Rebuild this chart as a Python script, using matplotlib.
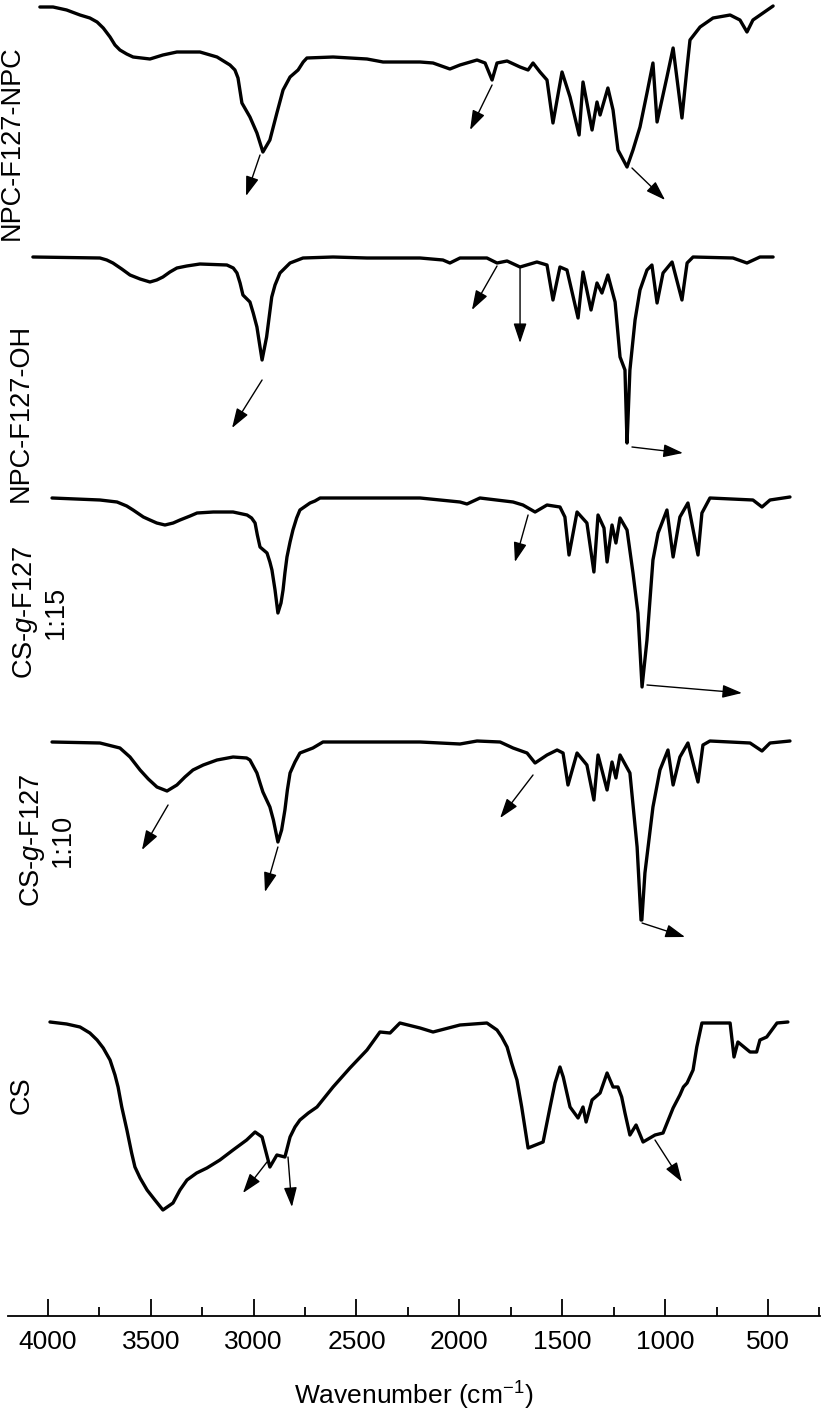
import matplotlib
matplotlib.use("Agg")
import matplotlib.pyplot as plt
import numpy as np

plt.rcParams['font.family'] = ['Liberation Sans', 'DejaVu Sans']
plt.rcParams['mathtext.fontset'] = 'custom'
plt.rcParams['mathtext.rm'] = 'Liberation Sans'
plt.rcParams['mathtext.it'] = 'Liberation Sans:italic'

# ---------------- data: (wavenumber cm^-1, relative transmittance a.u.) ----------------
labels = ["NPC-F127-NPC", "NPC-F127-OH", "CS-$\\mathit{g}$-F127\n1:15",
          "CS-$\\mathit{g}$-F127\n1:10", "CS"]
offsets = [1309, 1059, 818, 574, 294]

npc_f127_npc = [
    (4039, 0), (3975, 0), (3909, -3), (3844, -8), (3796, -11), (3761, -15), (3731, -21),
    (3698, -30), (3674, -38), (3650, -43), (3617, -47), (3586, -50), (3504, -52),
    (3441, -48), (3373, -45), (3261, -45), (3178, -50), (3115, -58), (3091, -63),
    (3076, -71), (3057, -96), (3018, -110), (2984, -126), (2955, -145), (2921, -133),
    (2887, -106), (2857, -83), (2823, -70), (2784, -63), (2759, -55), (2741, -51),
    (2614, -50), (2449, -52), (2371, -55), (2191, -55), (2128, -56), (2046, -62),
    (1997, -58), (1914, -53), (1875, -56), (1841, -73), (1817, -56), (1768, -54),
    (1705, -60), (1666, -63), (1642, -56), (1608, -65), (1574, -73), (1545, -116),
    (1501, -65), (1462, -90), (1418, -128), (1399, -75), (1355, -123), (1331, -95),
    (1316, -108), (1278, -81), (1253, -103), (1229, -143), (1185, -160), (1156, -143),
    (1122, -120), (1088, -86), (1059, -56), (1039, -115), (991, -70), (961, -41),
    (918, -111), (893, -60), (879, -33), (830, -20), (767, -11), (684, -8), (636, -13),
    (602, -25), (573, -13), (475, 1)]

npc_f127_oh = [
    (4073, 0), (3747, -1), (3714, -3), (3684, -6), (3641, -12), (3601, -18), (3552, -22),
    (3504, -25), (3471, -23), (3441, -20), (3407, -15), (3373, -11), (3325, -9),
    (3261, -7), (3130, -8), (3099, -11), (3081, -16), (3066, -26), (3052, -38),
    (3018, -45), (3002, -56), (2984, -70), (2972, -86), (2959, -103), (2937, -80),
    (2912, -40), (2896, -28), (2872, -16), (2823, -6), (2760, -1), (2614, 0), (2449, -1),
    (2191, -1), (2080, -3), (2046, -6), (1997, -1), (1866, -1), (1817, -6), (1768, -4),
    (1705, -10), (1623, -5), (1574, -8), (1545, -43), (1511, -10), (1477, -13),
    (1423, -61), (1399, -15), (1360, -53), (1331, -26), (1307, -36), (1278, -18),
    (1243, -45), (1219, -100), (1195, -113), (1190, -150), (1185, -186), (1178, -150),
    (1171, -113), (1146, -63), (1122, -33), (1088, -13), (1064, -8), (1039, -46),
    (1010, -16), (966, -5), (918, -43), (893, -6), (864, 0), (670, -1), (602, -6),
    (539, 0), (475, 0)]

cs_g_f127_115 = [
    (3980, 0), (3747, -2), (3664, -4), (3617, -8), (3586, -12), (3536, -19), (3504, -22),
    (3471, -25), (3431, -27), (3391, -25), (3358, -22), (3309, -18), (3275, -15),
    (3196, -14), (3100, -14), (3032, -17), (3010, -20), (2993, -25), (2982, -37),
    (2969, -49), (2935, -55), (2921, -64), (2911, -72), (2896, -92), (2882, -115),
    (2867, -105), (2857, -92), (2848, -75), (2838, -59), (2823, -44), (2809, -32),
    (2791, -20), (2775, -12), (2726, -5), (2702, -3), (2677, 0), (2191, 0), (1997, -4),
    (1963, -6), (1900, 0), (1739, -4), (1691, -7), (1632, -14), (1574, -7), (1511, -9),
    (1487, -19), (1467, -57), (1428, -14), (1380, -25), (1346, -74), (1326, -17),
    (1297, -30), (1282, -64), (1258, -27), (1239, -45), (1219, -20), (1185, -32),
    (1156, -75), (1132, -115), (1112, -189), (1088, -142), (1059, -62), (1034, -35),
    (991, -12), (961, -59), (928, -19), (889, -5), (840, -57), (821, -15), (782, 0),
    (573, -2), (529, -9), (490, -2), (393, 1)]

cs_g_f127_110 = [
    (3980, 0), (3747, -1), (3650, -6), (3601, -15), (3552, -28), (3512, -37), (3470, -45),
    (3421, -49), (3373, -43), (3334, -35), (3295, -28), (3245, -23), (3178, -18),
    (3100, -15), (3034, -16), (3018, -18), (2984, -31), (2969, -41), (2955, -50),
    (2921, -65), (2904, -78), (2882, -100), (2864, -88), (2848, -68), (2836, -48),
    (2823, -31), (2799, -20), (2775, -11), (2712, -6), (2663, 0), (2191, 0), (1997, -2),
    (1914, 1), (1802, 0), (1739, -6), (1671, -11), (1632, -21), (1574, -13), (1525, -8),
    (1496, -11), (1472, -43), (1428, -11), (1380, -23), (1346, -58), (1326, -13),
    (1282, -48), (1258, -20), (1239, -36), (1219, -13), (1171, -31), (1136, -105),
    (1117, -178), (1113, -178), (1098, -131), (1059, -65), (1025, -28), (986, -8),
    (961, -43), (928, -15), (889, -1), (840, -40), (816, -3), (782, 1), (587, -1),
    (529, -9), (490, -1), (393, 1)]

cs = [
    (3990, 0), (3909, -2), (3844, -5), (3796, -11), (3761, -18), (3731, -26), (3698, -38),
    (3674, -53), (3659, -65), (3641, -85), (3616, -108), (3593, -131), (3577, -145),
    (3552, -156), (3518, -168), (3480, -178), (3441, -188), (3392, -181), (3358, -168),
    (3324, -158), (3277, -151), (3227, -146), (3164, -138), (3100, -128), (3034, -118),
    (2993, -110), (2959, -115), (2921, -145), (2887, -133), (2848, -135), (2823, -115),
    (2799, -105), (2775, -98), (2734, -91), (2692, -85), (2653, -75), (2614, -65),
    (2532, -46), (2449, -28), (2386, -10), (2337, -11), (2289, -1), (2191, -6),
    (2128, -10), (1997, -3), (1866, -1), (1817, -8), (1794, -15), (1768, -25),
    (1746, -41), (1720, -58), (1697, -85), (1666, -126), (1593, -120), (1559, -85),
    (1535, -61), (1511, -45), (1495, -55), (1462, -85), (1423, -96), (1399, -85),
    (1384, -100), (1355, -78), (1316, -71), (1282, -51), (1253, -65), (1229, -65),
    (1211, -75), (1195, -91), (1171, -113), (1141, -103), (1107, -120), (1049, -113),
    (1010, -111), (961, -86), (928, -73), (911, -65), (893, -61), (864, -48), (846, -25),
    (821, -1), (684, -1), (665, -35), (646, -20), (587, -30), (555, -30), (539, -18),
    (506, -15), (456, -1), (403, 0)]

spectra = [npc_f127_npc, npc_f127_oh, cs_g_f127_115, cs_g_f127_110, cs]

# annotation arrows: (series index, w_start, t_start, w_end, t_end), t relative to series offset
arrows = [
    (0, 2969, -148, 3037, -189), (0, 1841, -78, 1948, -123), (0, 1161, -161, 1000, -193),
    (1, 2959, -123, 3105, -171), (1, 1817, -9, 1939, -53), (1, 1705, -11, 1705, -86),
    (1, 1161, -190, 913, -196),
    (2, 1666, -17, 1730, -64), (2, 1088, -187, 626, -195),
    (3, 3416, -63, 3543, -108), (3, 2882, -105, 2945, -150), (3, 1642, -33, 1802, -76),
    (3, 1112, -181, 903, -195),
    (4, 2935, -140, 3052, -171), (4, 2833, -135, 2814, -185), (4, 1049, -118, 918, -160),
]

xticks_major = [4000, 3500, 3000, 2500, 2000, 1500, 1000, 500]
xticks_minor = [3750, 3250, 2750, 2250, 1750, 1250, 750, 250]

label_pos = [(12, 143), (21, 413), (40, 612), (47, 840), (22, 1095)]  # pixel centres

# ---------------- figure ----------------
W, H = 827, 1416
fig = plt.figure(figsize=(W / 100, H / 100), dpi=100)
ax = fig.add_axes([8 / W, (H - 1316) / H, 812 / W, 1316 / H])

for data, off in zip(spectra, offsets):
    w = np.array([p[0] for p in data], dtype=float)
    t = np.array([p[1] for p in data], dtype=float)
    ax.plot(w, t + off, color='black', lw=2.4, solid_joinstyle='round',
            solid_capstyle='round')

for i, w0, t0, w1, t1 in arrows:
    ax.annotate('', xy=(w1, t1 + offsets[i]), xytext=(w0, t0 + offsets[i]),
                arrowprops=dict(arrowstyle='-|>,head_length=0.6,head_width=0.2',
                                mutation_scale=20, lw=1.0, color='black',
                                shrinkA=0, shrinkB=0))

ax.set_xlim(4194, 247)
ax.set_ylim(0, 1316)
for s in ['left', 'right', 'top']:
    ax.spines[s].set_visible(False)
ax.spines['bottom'].set_linewidth(1.3)
ax.set_yticks([])
ax.set_xticks(xticks_major)
ax.set_xticks(xticks_minor, minor=True)
ax.tick_params(axis='x', which='major', direction='in', length=12, width=1.3,
               labelsize=19, pad=10)
ax.tick_params(axis='x', which='minor', direction='in', length=6.5, width=1.3)
ax.set_xlabel('Wavenumber (cm$^{\\mathregular{-1}}$)', fontsize=19, labelpad=19)

for lab, (px, py) in zip(labels, label_pos):
    fig.text(px / W, 1 - py / H, lab, rotation=90, ha='center', va='center',
             fontsize=19.5, multialignment='center', linespacing=1.15)

fig.savefig('out.png', dpi=100)
